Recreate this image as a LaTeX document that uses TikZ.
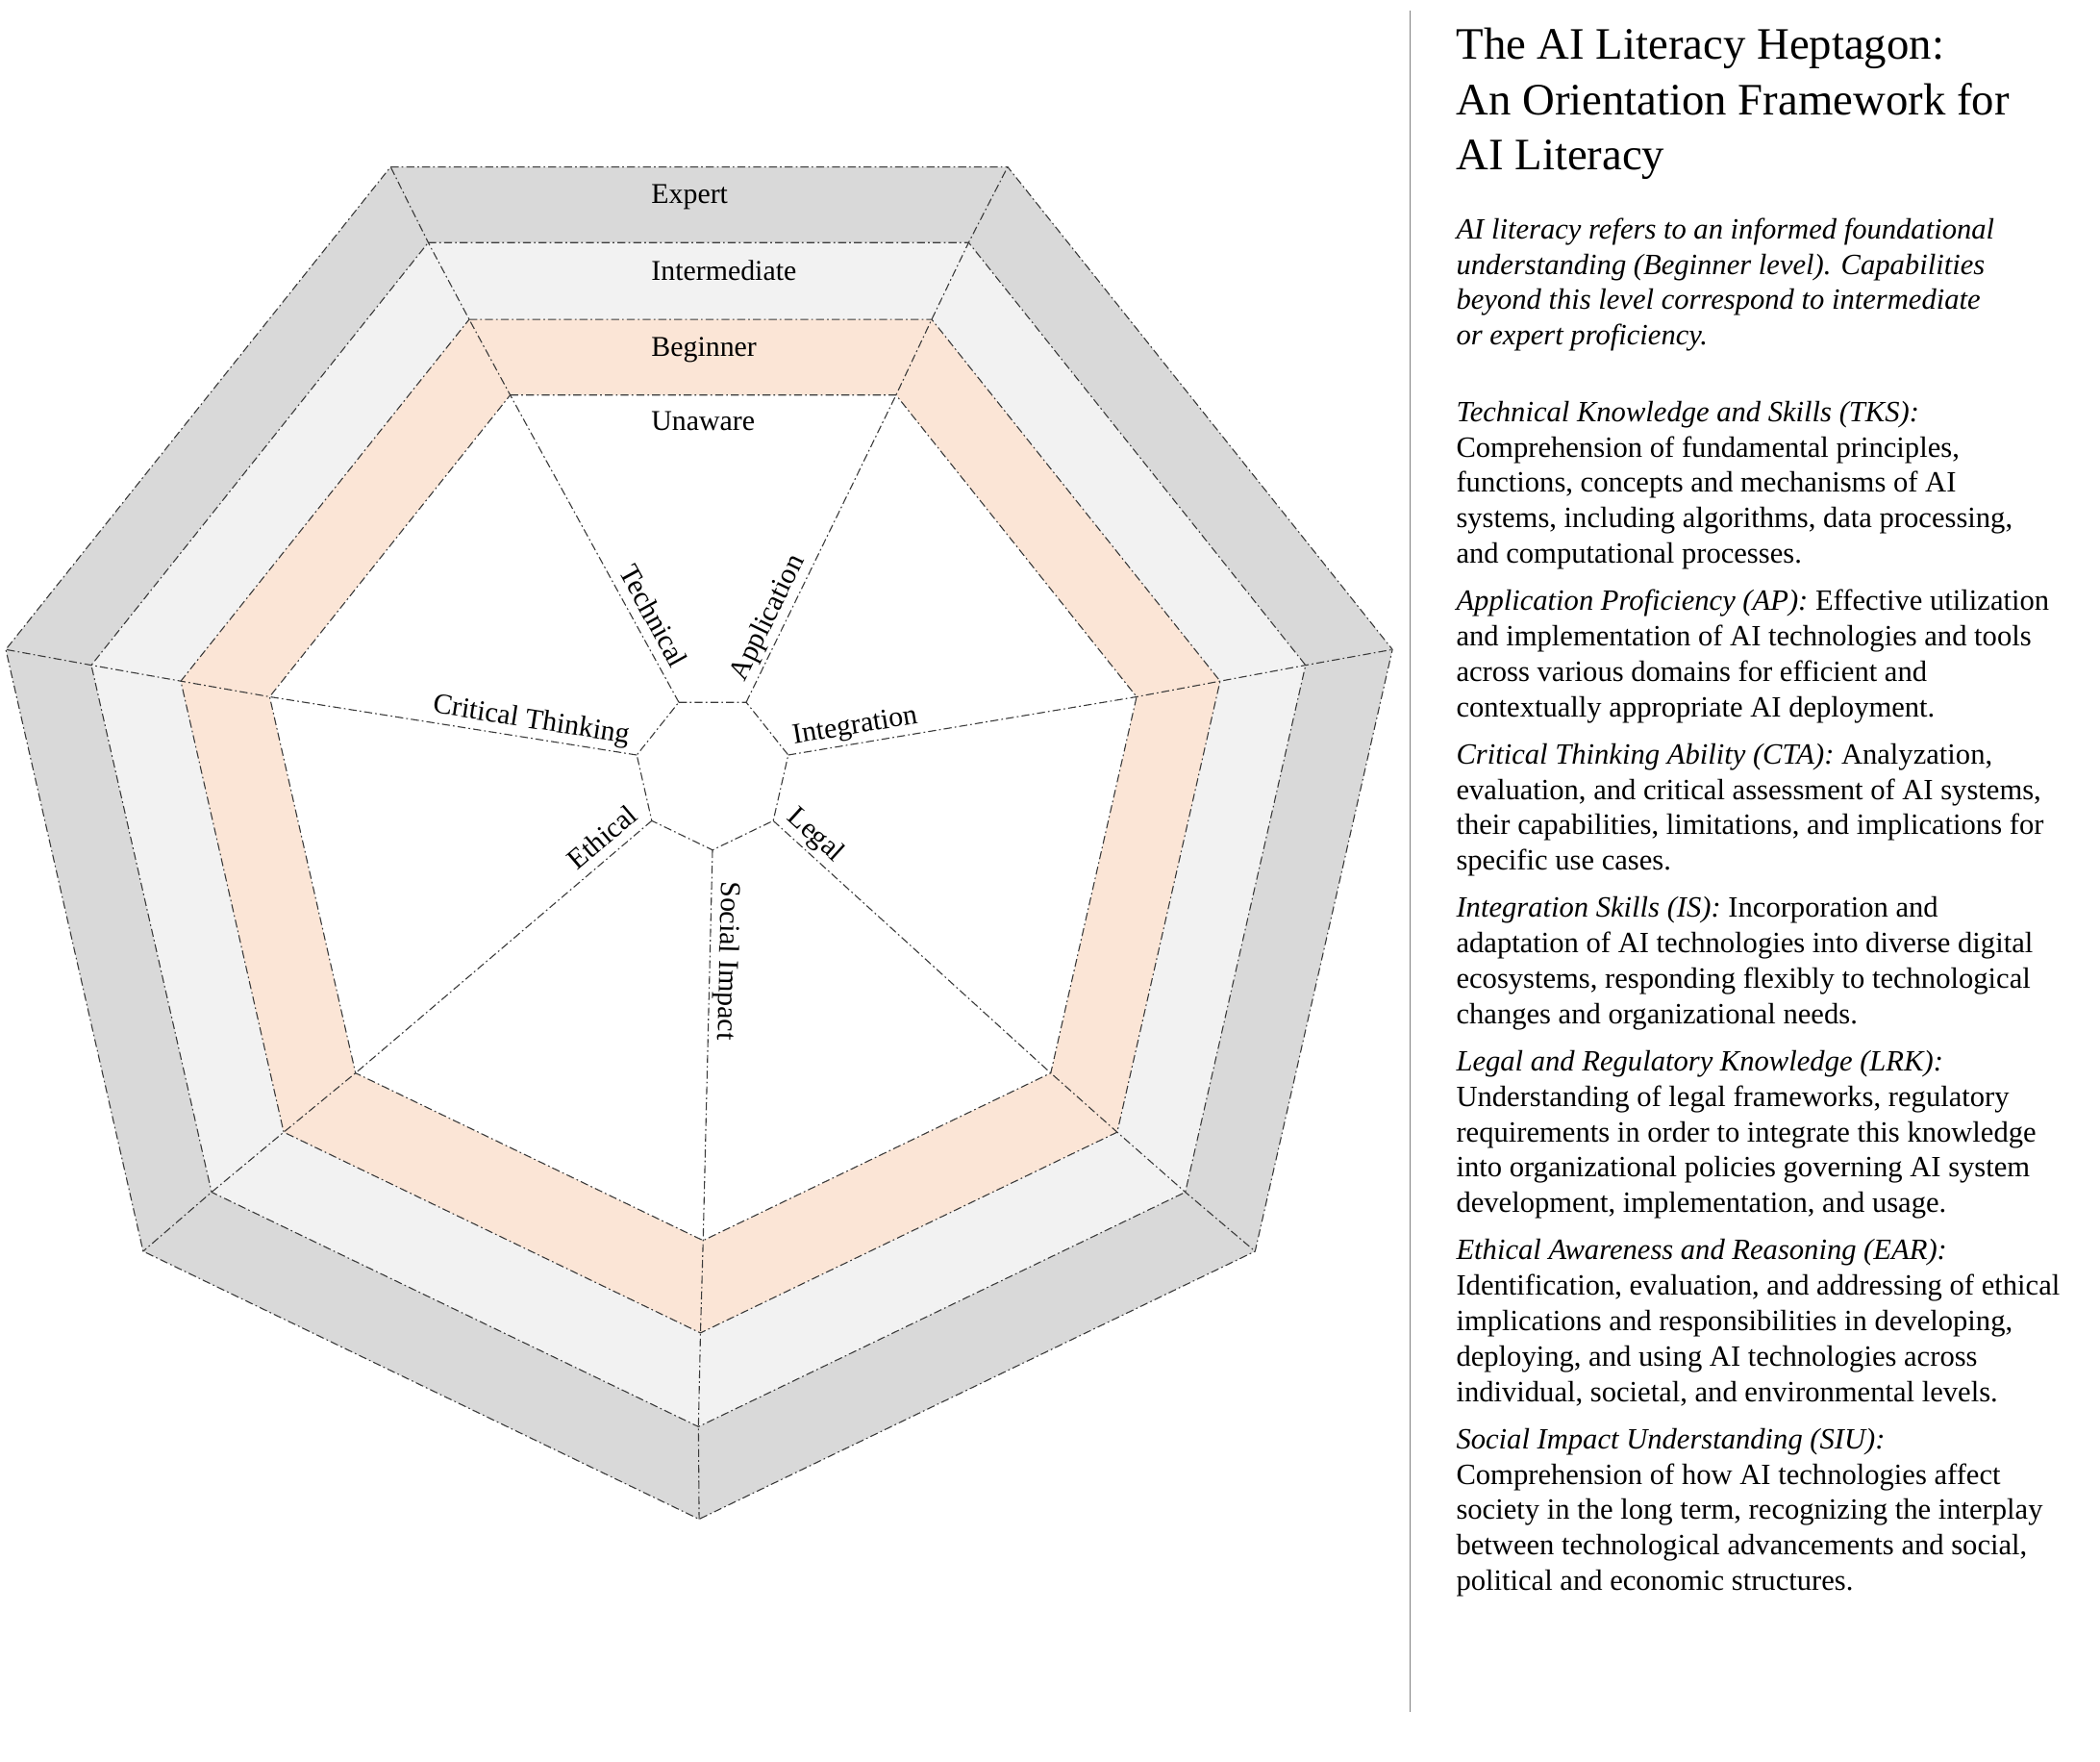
\documentclass[tikz,border=0pt]{standalone}
\usepackage{fontspec}
\setmainfont{Liberation Serif}
\definecolor{expertc}{HTML}{D9D9D9}
\definecolor{interc}{HTML}{F2F2F2}
\definecolor{begc}{HTML}{FBE5D6}
\definecolor{linec}{HTML}{3A3A3A}
\definecolor{sepc}{HTML}{808080}
\begin{document}
\begin{tikzpicture}[x=0.02cm,y=-0.02cm,
  dd/.style={draw=linec, line width=0.45pt, dash pattern=on 3.4pt off 1.3pt on 0.7pt off 1.3pt},
  lab/.style={font=\fontsize{12.2pt}{14pt}\selectfont, inner xsep=0pt, inner ysep=4pt, text depth=0pt},
  ringlab/.style={font=\fontsize{12.2pt}{14pt}\selectfont, anchor=base west, inner sep=0pt},
  ttl/.style={font=\fontsize{19.1pt}{23.5pt}\selectfont, anchor=base west, inner sep=0pt},
  body/.style={font=\fontsize{12.5pt}{15pt}\selectfont, anchor=base west, inner sep=0pt},
  sepline/.style={draw=sepc, line width=0.5pt}]
\useasboundingbox (0,0) rectangle (1568,1314.6);
% vertices of the rings
\foreach \r/\cx/\cy/\R in {0/522/603/531, 1/521.5/600/465, 2/523/597/398, 3/525/594/332, 4/532/576.5/58}{
  \foreach \k in {0,...,6}{
    \coordinate (p\r-\k) at ({\cx+\R*cos(115.714-51.4286*\k)},{\cy-\R*sin(115.714-51.4286*\k)});
  }
}
% fills
\fill[expertc] (p0-0) \foreach \k in {1,...,6}{ -- (p0-\k)} -- cycle;
\fill[interc] (p1-0) \foreach \k in {1,...,6}{ -- (p1-\k)} -- cycle;
\fill[begc] (p2-0) \foreach \k in {1,...,6}{ -- (p2-\k)} -- cycle;
\fill[white] (p3-0) \foreach \k in {1,...,6}{ -- (p3-\k)} -- cycle;
% outlines
\foreach \r in {0,...,4}{
  \draw[dd] (p\r-0) \foreach \k in {1,...,6}{ -- (p\r-\k)} -- cycle;
}
% spokes and corner lines
\foreach \k in {0,...,6}{
  \draw[dd] (p4-\k) -- (p3-\k) -- (p2-\k) -- (p1-\k) -- (p0-\k);
}
% ring labels
\node[ringlab] (lExp) at (486,152) {Expert};
\node[ringlab] (lInt) at (486,209.4) {Intermediate};
\node[ringlab] (lBeg) at (486,266.1) {Beginner};
\node[ringlab] (lUna) at (486,321.4) {Unaware};
% spoke labels
\path (p3-0) -- (p4-0) node[lab, sloped, above, pos=0.75] (lTech) {Technical};
\path (p4-1) -- (p3-1) node[lab, sloped, above, pos=0.25] (lApp) {Application};
\path (p4-2) -- (p3-2) node[lab, sloped, above, pos=0.2] (lIntg) {Integration};
\path (p4-3) -- (p3-3) node[lab, sloped, above, pos=0.11] (lLeg) {Legal};
\path (p4-4) -- (p3-4) node[lab, sloped, allow upside down, above, pos=0.283] (lSoc) {Social Impact};
\path (p3-5) -- (p4-5) node[lab, sloped, above, pos=0.875] (lEth) {Ethical};
\path (p3-6) -- (p4-6) node[lab, sloped, above, pos=0.705] (lCrit) {Critical Thinking};
% separator
\coordinate (sepT) at (1053,8);
\coordinate (sepB) at (1053,1278);
\draw[sepline] (sepT) -- (sepB);
% title
\node[ttl] (t1) at (1087,44.3) {The AI Literacy Heptagon:};
\node[ttl] (t2) at (1087,85.6) {An Orientation Framework for};
\node[ttl] (t3) at (1087,126.9) {AI Literacy};
% intro
\node[body] (i1) at (1087,178.3) {\textit{AI literacy refers to an informed foundational}};
\node[body] (i2) at (1087,204.7) {\textit{understanding (Beginner level). Capabilities}};
\node[body] (i3) at (1087,231.1) {\textit{beyond this level correspond to intermediate}};
\node[body] (i4) at (1087,257.5) {\textit{or expert proficiency.}};
% TKS
\node[body] (a1) at (1087,314.7) {\textit{Technical Knowledge and Skills (TKS):}};
\node[body] (a2) at (1087,341.1) {Comprehension of fundamental principles,};
\node[body] (a3) at (1087,367.5) {functions, concepts and mechanisms of AI};
\node[body] (a4) at (1087,393.9) {systems, including algorithms, data processing,};
\node[body] (a5) at (1087,420.3) {and computational processes.};
% AP
\node[body] (b1) at (1087,455.7) {\textit{Application Proficiency (AP):} Effective utilization};
\node[body] (b2) at (1087,482.1) {and implementation of AI technologies and tools};
\node[body] (b3) at (1087,508.5) {across various domains for efficient and};
\node[body] (b4) at (1087,534.9) {contextually appropriate AI deployment.};
% CTA
\node[body] (c1) at (1087,570.3) {\textit{Critical Thinking Ability (CTA):} Analyzation,};
\node[body] (c2) at (1087,596.7) {evaluation, and critical assessment of AI systems,};
\node[body] (c3) at (1087,623.1) {their capabilities, limitations, and implications for};
\node[body] (c4) at (1087,649.5) {specific use cases.};
% IS
\node[body] (d1) at (1087,684.9) {\textit{Integration Skills (IS):} Incorporation and};
\node[body] (d2) at (1087,711.3) {adaptation of AI technologies into diverse digital};
\node[body] (d3) at (1087,737.7) {ecosystems, responding flexibly to technological};
\node[body] (d4) at (1087,764.1) {changes and organizational needs.};
% LRK
\node[body] (e1) at (1087,799.5) {\textit{Legal and Regulatory Knowledge (LRK):}};
\node[body] (e2) at (1087,825.9) {Understanding of legal frameworks, regulatory};
\node[body] (e3) at (1087,852.3) {requirements in order to integrate this knowledge};
\node[body] (e4) at (1087,878.7) {into organizational policies governing AI system};
\node[body] (e5) at (1087,905.1) {development, implementation, and usage.};
% EAR
\node[body] (f1) at (1087,940.5) {\textit{Ethical Awareness and Reasoning (EAR):}};
\node[body] (f2) at (1087,966.9) {Identification, evaluation, and addressing of ethical};
\node[body] (f3) at (1087,993.3) {implications and responsibilities in developing,};
\node[body] (f4) at (1087,1019.7) {deploying, and using AI technologies across};
\node[body] (f5) at (1087,1046.1) {individual, societal, and environmental levels.};
% SIU
\node[body] (g1) at (1087,1081.5) {\textit{Social Impact Understanding (SIU):}};
\node[body] (g2) at (1087,1107.9) {Comprehension of how AI technologies affect};
\node[body] (g3) at (1087,1134.3) {society in the long term, recognizing the interplay};
\node[body] (g4) at (1087,1160.7) {between technological advancements and social,};
\node[body] (g5) at (1087,1187.1) {political and economic structures.};
\end{tikzpicture}
\end{document}
